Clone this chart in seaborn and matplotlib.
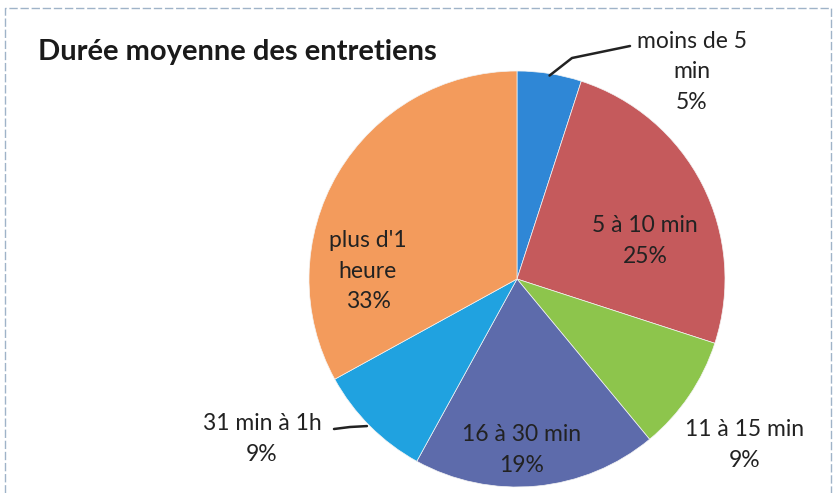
import matplotlib.pyplot as plt
import seaborn as sns
import numpy as np

# chart data
categories = ["moins de 5\nmin", "5 à 10 min", "11 à 15 min", "16 à 30 min", "31 min à 1h", "plus d'1\nheure"]
shares = [5, 25, 9, 19, 9, 33]
colors = ["#2f87d6", "#c55a5c", "#8dc54c", "#5d6bab", "#20a2e0", "#f39b5c"]

sns.set_theme(style="white")
plt.rcParams['font.family'] = ['Lato', 'DejaVu Sans']

W, H = 834, 493
fig = plt.figure(figsize=(W / 100, H / 100), dpi=100)
ax = fig.add_axes([0, 0, 1, 1])

cx, cy, r = 517, H - 279, 208
wedges, _ = ax.pie(shares, colors=colors, startangle=90, counterclock=False,
                   center=(cx, cy), radius=r, frame=True,
                   wedgeprops=dict(linewidth=0.5, edgecolor="#f4f4f4"))
ax.set_xlim(0, W)
ax.set_ylim(0, H)
ax.set_axis_off()

# label positions in pixels (top-left origin)
label_pos = [(692, 72), (645, 241), (745, 445), (522, 450), (262, 439), (368, 271)]
for name, val, (lx, ly) in zip(categories, shares, label_pos):
    ax.text(lx, H - ly, f"{name}\n{val}%", ha="center", va="center",
            fontsize=16.5, color="#222222", linespacing=1.55)

# leader lines for outside labels
def edge_point(i):
    w = wedges[i]
    a = np.deg2rad((w.theta1 + w.theta2) / 2)
    return cx + r * np.cos(a), cy + r * np.sin(a)

x0, y0 = edge_point(0)
ax.plot([x0, 572, 630], [y0 - 2, H - 58, H - 46], color="#222222", lw=1.8)
x4, y4 = edge_point(4)
ax.plot([x4 - 3, 350, 334], [y4, H - 427, H - 429], color="#222222", lw=1.8)

ax.text(38, H - 52, "Durée moyenne des entretiens", ha="left", va="center",
        fontsize=21, fontweight="bold", color="#1a1a1a")

# chart border
ax.plot([5, 5, W - 3, W - 3], [0, H - 8, H - 8, 0], color="#9fb3c8", lw=1, ls=(0, (6, 2)))

fig.savefig("out.png", dpi=100)
